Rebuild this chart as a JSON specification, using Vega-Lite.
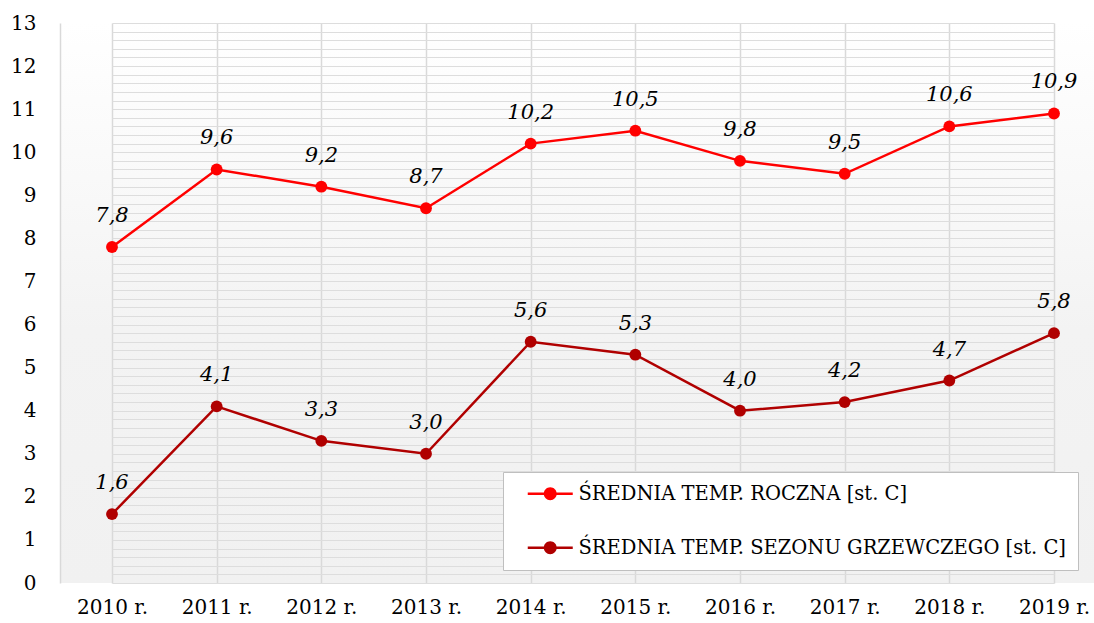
{
  "$schema": "https://vega.github.io/schema/vega-lite/v6.json",
  "autosize": {"type": "none"},
  "width": 1034,
  "height": 560,
  "padding": {"left": 60, "top": 23, "right": 0, "bottom": 40},
  "background": "white",
  "config": {
    "locale": {"number": {"decimal": ",", "thousands": " ", "grouping": [3], "currency": ["", " zł"]}},
    "view": {"stroke": null, "fill": {"gradient": "linear", "x1": 0, "y1": 0, "x2": 0, "y2": 1, "stops": [{"offset": 0, "color": "#ffffff"}, {"offset": 0.55, "color": "#f3f3f3"}, {"offset": 1, "color": "#f1f1f1"}]}},
    "font": "DejaVu Serif"
  },
  "data": {"values": [
    {"year": "2010 r.", "series": "ŚREDNIA TEMP. ROCZNA [st. C]", "value": 7.8},
    {"year": "2011 r.", "series": "ŚREDNIA TEMP. ROCZNA [st. C]", "value": 9.6},
    {"year": "2012 r.", "series": "ŚREDNIA TEMP. ROCZNA [st. C]", "value": 9.2},
    {"year": "2013 r.", "series": "ŚREDNIA TEMP. ROCZNA [st. C]", "value": 8.7},
    {"year": "2014 r.", "series": "ŚREDNIA TEMP. ROCZNA [st. C]", "value": 10.2},
    {"year": "2015 r.", "series": "ŚREDNIA TEMP. ROCZNA [st. C]", "value": 10.5},
    {"year": "2016 r.", "series": "ŚREDNIA TEMP. ROCZNA [st. C]", "value": 9.8},
    {"year": "2017 r.", "series": "ŚREDNIA TEMP. ROCZNA [st. C]", "value": 9.5},
    {"year": "2018 r.", "series": "ŚREDNIA TEMP. ROCZNA [st. C]", "value": 10.6},
    {"year": "2019 r.", "series": "ŚREDNIA TEMP. ROCZNA [st. C]", "value": 10.9},
    {"year": "2010 r.", "series": "ŚREDNIA TEMP. SEZONU GRZEWCZEGO [st. C]", "value": 1.6},
    {"year": "2011 r.", "series": "ŚREDNIA TEMP. SEZONU GRZEWCZEGO [st. C]", "value": 4.1},
    {"year": "2012 r.", "series": "ŚREDNIA TEMP. SEZONU GRZEWCZEGO [st. C]", "value": 3.3},
    {"year": "2013 r.", "series": "ŚREDNIA TEMP. SEZONU GRZEWCZEGO [st. C]", "value": 3.0},
    {"year": "2014 r.", "series": "ŚREDNIA TEMP. SEZONU GRZEWCZEGO [st. C]", "value": 5.6},
    {"year": "2015 r.", "series": "ŚREDNIA TEMP. SEZONU GRZEWCZEGO [st. C]", "value": 5.3},
    {"year": "2016 r.", "series": "ŚREDNIA TEMP. SEZONU GRZEWCZEGO [st. C]", "value": 4.0},
    {"year": "2017 r.", "series": "ŚREDNIA TEMP. SEZONU GRZEWCZEGO [st. C]", "value": 4.2},
    {"year": "2018 r.", "series": "ŚREDNIA TEMP. SEZONU GRZEWCZEGO [st. C]", "value": 4.7},
    {"year": "2019 r.", "series": "ŚREDNIA TEMP. SEZONU GRZEWCZEGO [st. C]", "value": 5.8}
  ]},
  "encoding": {
    "x": {"field": "year", "type": "ordinal", "scale": {"type": "point", "padding": 0, "range": [52, 994]},
      "axis": {"title": null, "labelAngle": 0, "domain": false, "ticks": false, "grid": true, "gridColor": "#d9d9d9", "gridWidth": 1.5, "labelFontSize": 20, "labelColor": "#000000", "labelFont": "DejaVu Serif", "labelPadding": 14}},
    "y": {"field": "value", "type": "quantitative", "scale": {"domain": [0, 13], "nice": false},
      "axis": {"title": null, "values": [0,0.2,0.4,0.6,0.8,1,1.2,1.4,1.6,1.8,2,2.2,2.4,2.6,2.8,3,3.2,3.4,3.6,3.8,4,4.2,4.4,4.6,4.8,5,5.2,5.4,5.6,5.8,6,6.2,6.4,6.6,6.8,7,7.2,7.4,7.6,7.8,8,8.2,8.4,8.6,8.8,9,9.2,9.4,9.6,9.8,10,10.2,10.4,10.6,10.8,11,11.2,11.4,11.6,11.8,12,12.2,12.4,12.6,12.8,13],
        "labelExpr": "datum.value % 1 === 0 ? format(datum.value, 'd') : ''",
        "ticks": false, "domain": true, "domainColor": "#d9d9d9", "domainWidth": 1.5, "grid": true,
        "labelFontSize": 20, "labelColor": "#000000", "labelFont": "DejaVu Serif", "labelPadding": 24,
        "encode": {"grid": {"update": {
          "stroke": {"signal": "datum.value % 1 === 0 ? '#d6d6d6' : '#e3e3e3'"},
          "strokeWidth": {"value": 1.5},
          "strokeOpacity": {"signal": "datum.value % 1 === 0 ? 1 : max(0.15, datum.value / 13)"}
        }}}}
    },
    "color": {"field": "series", "type": "nominal",
      "scale": {"domain": ["ŚREDNIA TEMP. ROCZNA [st. C]", "ŚREDNIA TEMP. SEZONU GRZEWCZEGO [st. C]"], "range": ["#ff0000", "#b00000"]}}
  },
  "layer": [
    {"mark": {"type": "line", "strokeWidth": 2.5},
     "encoding": {"color": {"field": "series", "type": "nominal",
       "legend": {"title": null, "orient": "none", "legendX": 443, "legendY": 449, "fillColor": "#ffffff", "strokeColor": "#bfbfbf", "padding": 12, "rowPadding": 33, "labelFont": "DejaVu Serif", "labelFontSize": 19.5, "labelColor": "#000000", "labelLimit": 800, "symbolSize": 324, "symbolStrokeWidth": 0, "symbolOpacity": 1, "symbolType": "M-2.5,-0.13L2.5,-0.13L2.5,0.13L-2.5,0.13Z M-0.72,0A0.72,0.72,0,1,1,0.72,0A0.72,0.72,0,1,1,-0.72,0Z", "symbolOffset": 25.5, "labelOffset": 18.5}}}},
    {"mark": {"type": "point", "filled": true, "size": 140, "opacity": 1},
     "encoding": {"color": {"field": "series", "type": "nominal",
       "legend": {"title": null, "orient": "none", "legendX": 443, "legendY": 449, "fillColor": "#ffffff", "strokeColor": "#bfbfbf", "padding": 12, "rowPadding": 33, "labelFont": "DejaVu Serif", "labelFontSize": 19.5, "labelColor": "#000000", "labelLimit": 800, "symbolSize": 324, "symbolStrokeWidth": 0, "symbolOpacity": 1, "symbolType": "M-2.5,-0.13L2.5,-0.13L2.5,0.13L-2.5,0.13Z M-0.72,0A0.72,0.72,0,1,1,0.72,0A0.72,0.72,0,1,1,-0.72,0Z", "symbolOffset": 25.5, "labelOffset": 18.5}}}},
    {"mark": {"type": "text", "dy": -31, "fontSize": 21, "fontStyle": "italic", "font": "DejaVu Serif", "color": "#000000"},
     "encoding": {"text": {"field": "value", "type": "quantitative", "format": ".1f"}, "color": {"value": "#000000"}}}
  ]
}
